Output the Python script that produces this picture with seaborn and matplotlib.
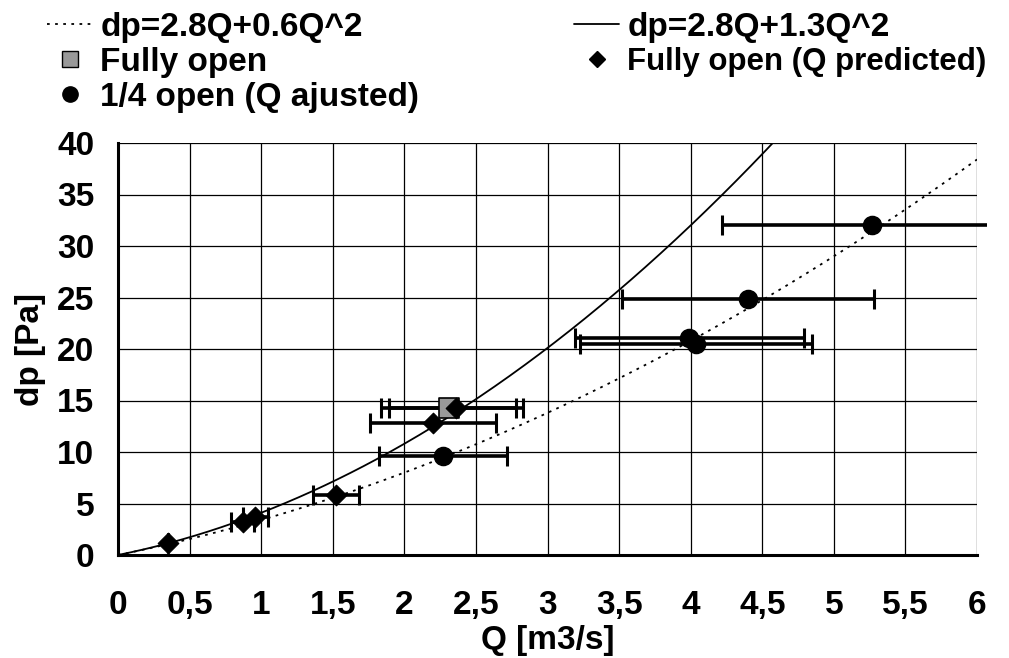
import numpy as np
import pandas as pd
import matplotlib
matplotlib.use("Agg")
import matplotlib.pyplot as plt
import seaborn as sns
from matplotlib.ticker import MultipleLocator, FixedLocator, FixedFormatter
from matplotlib.lines import Line2D
from matplotlib.transforms import Bbox, TransformedBbox

# ---- data ----
fit_low = (2.8, 0.6)   # dp = a*Q + b*Q^2
fit_high = (2.8, 1.3)

full_Q = [2.31]
full_dp = [14.3]
full_err = [0.47]

pred_Q = [0.35, 0.87, 0.96, 1.52, 2.20, 2.36]
pred_dp = [1.2, 3.2, 3.7, 5.8, 12.8, 14.3]
pred_err = [0.0, 0.08, 0.09, 0.16, 0.44, 0.47]

quart_Q = [2.27, 3.99, 4.04, 4.40, 5.27]
quart_dp = [9.6, 21.1, 20.5, 24.9, 32.0]
quart_err = [0.45, 0.80, 0.81, 0.88, 1.05]

x_ticks = [0, 0.5, 1, 1.5, 2, 2.5, 3, 3.5, 4, 4.5, 5, 5.5, 6]
x_labels = ["0", "0,5", "1", "1,5", "2", "2,5", "3", "3,5", "4", "4,5", "5", "5,5", "6"]
y_ticks = [0, 5, 10, 15, 20, 25, 30, 35, 40]

# ---- style ----
sns.set_style("white")
plt.rcParams['font.family'] = ['Liberation Sans', 'DejaVu Sans']
plt.rcParams['font.weight'] = 'bold'
plt.rcParams['text.color'] = 'black'
plt.rcParams['axes.labelcolor'] = 'black'
plt.rcParams['xtick.color'] = 'black'
plt.rcParams['ytick.color'] = 'black'

FS = 24

fig = plt.figure(figsize=(10.09, 6.58), dpi=100)
ax = fig.add_axes([118/1009, (658-555)/658, (977-118)/1009, (555-143)/658])

Qgrid = np.linspace(0, 6, 400)
df_curves = pd.DataFrame({
    "Q": Qgrid,
    "low": fit_low[0]*Qgrid + fit_low[1]*Qgrid**2,
    "high": fit_high[0]*Qgrid + fit_high[1]*Qgrid**2,
})

# grid
for xv in x_ticks:
    ax.axvline(xv, color='black', lw=0.9, zorder=0)
for yv in y_ticks:
    ax.axhline(yv, color='black', lw=0.9, zorder=0)

dotted = (0, (1.5, 3))
sns.lineplot(data=df_curves, x="Q", y="low", ax=ax, color='black', lw=1.3,
             linestyle=dotted, zorder=2)
sns.lineplot(data=df_curves, x="Q", y="high", ax=ax, color='black', lw=1.3, zorder=2)

eb_kw = dict(fmt='none', ecolor='black', elinewidth=2.6, capsize=7, capthick=2.2, zorder=3)
conts = [ax.errorbar(quart_Q, quart_dp, xerr=quart_err, **eb_kw),
         ax.errorbar(pred_Q, pred_dp, xerr=pred_err, **eb_kw),
         ax.errorbar(full_Q, full_dp, xerr=full_err, **eb_kw)]
clip = TransformedBbox(Bbox([[-0.01, -0.05], [1.012, 1.05]]), ax.transAxes)
for c in conts:
    for art in c.get_children():
        art.set_clip_box(clip)

sns.scatterplot(x=full_Q, y=full_dp, ax=ax, marker='s', s=190, color='#999999',
                edgecolor='black', linewidth=1.2, zorder=4)
sns.scatterplot(x=quart_Q, y=quart_dp, ax=ax, marker='o', s=170, color='black',
                edgecolor='black', zorder=5)
sns.scatterplot(x=pred_Q, y=pred_dp, ax=ax, marker='D', s=110, color='black',
                edgecolor='black', zorder=6)

ax.set_xlim(0, 6)
ax.set_ylim(0, 40)
ax.xaxis.set_major_locator(FixedLocator(x_ticks))
ax.xaxis.set_major_formatter(FixedFormatter(x_labels))
ax.xaxis.set_minor_locator(MultipleLocator(0.1))
ax.yaxis.set_major_locator(FixedLocator(y_ticks))
ax.yaxis.set_minor_locator(MultipleLocator(1))
ax.tick_params(axis='both', which='major', direction='inout', length=12, width=2,
               labelsize=FS, colors='black')
ax.tick_params(axis='both', which='minor', direction='out', length=6, width=2, colors='black')
ax.tick_params(axis='x', which='major', pad=19)
ax.tick_params(axis='y', which='major', pad=11)
for lab in ax.get_xticklabels() + ax.get_yticklabels():
    lab.set_fontweight('bold')

for s in ['top', 'right']:
    ax.spines[s].set_visible(False)
for s in ['left', 'bottom']:
    ax.spines[s].set_linewidth(2.2)
    ax.spines[s].set_color('black')

ax.set_xlabel("Q [m3/s]", fontsize=FS, fontweight='bold', labelpad=3)
ax.set_ylabel("dp [Pa]", fontsize=FS, fontweight='bold', labelpad=8)

prop = {'size': FS, 'weight': 'bold'}
leg_kw = dict(loc='upper left', frameon=False, prop=prop, handlelength=1.35,
              handletextpad=0.25, labelspacing=0.12, borderaxespad=0.0, borderpad=0.0)

h1 = [
    Line2D([], [], color='black', lw=1.3, linestyle=dotted),
    Line2D([], [], marker='s', color='none', markerfacecolor='#999999', markeredgecolor='black', markersize=12),
    Line2D([], [], marker='o', color='none', markerfacecolor='black', markeredgecolor='black', markersize=11),
]
l1 = ["dp=2.8Q+0.6Q^2", "Fully open", "1/4 open (Q ajusted)"]
h2 = [
    Line2D([], [], color='black', lw=1.3),
    Line2D([], [], marker='D', color='none', markerfacecolor='black', markeredgecolor='black', markersize=8),
]
l2 = ["dp=2.8Q+1.3Q^2", "Fully open (Q predicted)"]
leg1 = fig.legend(h1, l1, bbox_to_anchor=(47/1009, 1.0 - 12/658), **leg_kw)
leg2 = fig.legend(h2, l2, bbox_to_anchor=(574/1009, 1.0 - 12/658), **leg_kw)
leg2.get_texts()[1].set_fontsize(22.5)

fig.savefig("out.png", dpi=100)
